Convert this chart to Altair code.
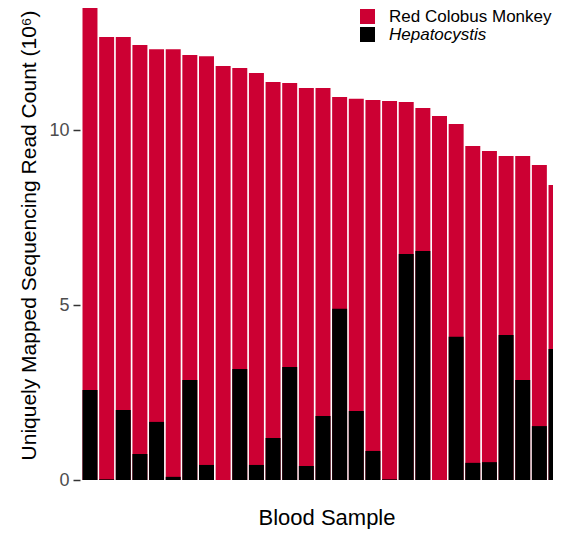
import altair as alt
import pandas as pd

# Values (units: 10^6 reads)
samples = list(range(1, 30))
total_reads = [13.54, 12.66, 12.66, 12.43, 12.31, 12.31, 12.14, 12.11, 11.83, 11.77,
               11.63, 11.37, 11.34, 11.20, 11.20, 10.94, 10.89, 10.86, 10.83, 10.80,
               10.63, 10.40, 10.17, 9.54, 9.40, 9.26, 9.26, 9.00, 8.43]
hepatocystis_reads = [2.57, 0.02, 2.00, 0.74, 1.66, 0.09, 2.86, 0.43, 0.00, 3.17,
                      0.43, 1.20, 3.23, 0.40, 1.83, 4.89, 1.97, 0.83, 0.02, 6.46,
                      6.54, 0.00, 4.09, 0.49, 0.51, 4.14, 2.86, 1.54, 3.74]
series_names = ["Red Colobus Monkey", "Hepatocystis"]
series_colors = ["#CC0033", "#000000"]

rows = []
for s, v in zip(samples, total_reads):
    rows.append({"sample": s, "series": series_names[0], "reads": v})
for s, v in zip(samples, hepatocystis_reads):
    rows.append({"sample": s, "series": series_names[1], "reads": v})
df = pd.DataFrame(rows)

FONT = "Liberation Sans"

chart = alt.Chart(df).mark_bar().encode(
    x=alt.X("sample:O",
            scale=alt.Scale(paddingInner=0.1, paddingOuter=0.15),
            axis=alt.Axis(title="Blood Sample", labels=False, ticks=False, domain=False,
                          titleFontSize=22, titleFont=FONT, titleFontWeight="normal",
                          titleColor="#000000", titleX=246.5, titleY=37,
                          titleBaseline="middle")),
    y=alt.Y("reads:Q", stack=None,
            scale=alt.Scale(domain=[0, 472 / 35], nice=False, zero=True),
            axis=alt.Axis(title="Uniquely Mapped Sequencing Read Count (10⁶)",
                          values=[0, 5, 10], grid=False, domain=False,
                          tickSize=7, tickWidth=1.5, tickColor="#333333",
                          labelPadding=4, labelFontSize=18, labelFont=FONT,
                          labelColor="#4D4D4D",
                          titleFontSize=21, titleFont=FONT, titleFontWeight="normal",
                          titleColor="#000000", titleX=-51, titleY=227,
                          titleAngle=-90, titleBaseline="middle")),
    color=alt.Color("series:N",
                    scale=alt.Scale(domain=series_names, range=series_colors),
                    legend=alt.Legend(title=None, orient="none", legendX=279, legendY=0,
                                      symbolType="square", symbolSize=225,
                                      symbolStrokeWidth=0, symbolOpacity=1,
                                      labelFontSize=17, labelFont=FONT,
                                      labelColor="#000000", labelOffset=13,
                                      labelLimit=300,
                                      rowPadding=0, padding=0,
                                      labelFontStyle={"expr": "datum.label == 'Hepatocystis' ? 'italic' : 'normal'"})),
).properties(
    width=486,
    height=472,
    autosize=alt.AutoSizeParams(type="none"),
    padding={"left": 72, "top": 0, "right": -13, "bottom": 49},
).configure_view(stroke=None)

chart.save("out.html", embed_options={"renderer": "svg", "actions": False})
